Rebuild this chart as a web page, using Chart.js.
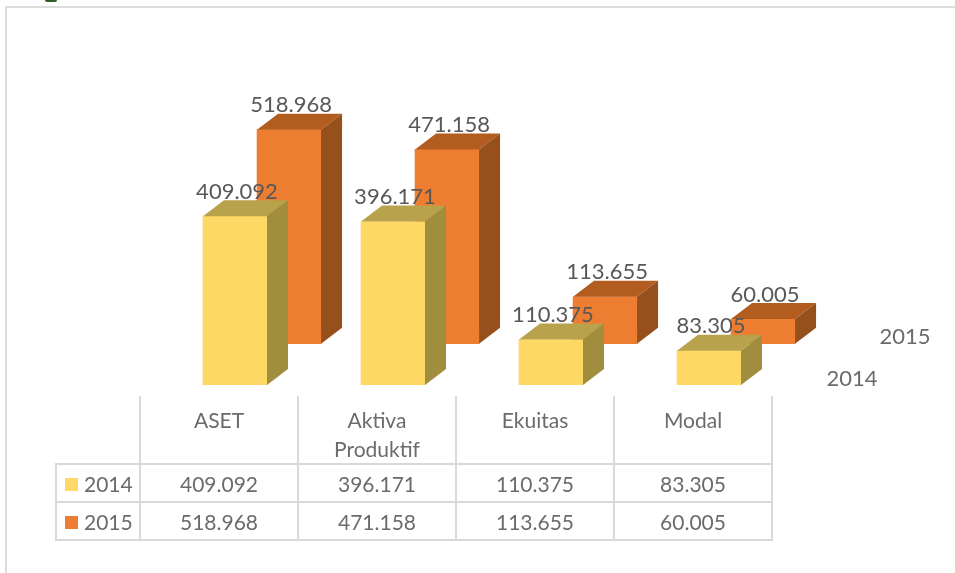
<!DOCTYPE html>
<html>
<head>
<meta charset="utf-8">
<title>Aset 2014-2015</title>
<script src="https://cdn.jsdelivr.net/npm/chart.js@4/dist/chart.umd.min.js"></script>
<style>
  html, body { margin: 0; padding: 0; background: #fff; overflow: hidden; }
  #wrap { position: relative; width: 955px; height: 573px; font-family: Lato, sans-serif; }
  #chart { position: absolute; left: 0; top: 0; }
  .frame-top  { position: absolute; left: 5px; top: 6px; width: 950px; height: 2px; background: #dcdcdc; }
  .frame-left { position: absolute; left: 5px; top: 6px; width: 2px; height: 567px; background: #dcdcdc; }
  .clip-mark  { position: absolute; left: 45px; top: 0; width: 12px; height: 2px; background: #2f5f1f; border-radius: 0 0 6px 6px; }
  #dataTable {
    position: absolute; left: 55px; top: 396px; width: 716px; table-layout: fixed;
    border-collapse: collapse; color: #6b6b6b; font-size: 21px;
  }
  #dataTable td { border: 2px solid #d9d9d9; text-align: center; padding: 0; height: 36px; }
  #dataTable tr:first-child td { border-top: none; height: 66px; vertical-align: top; line-height: 29px; padding-top: 9px; box-sizing: border-box; }
  #dataTable tr:first-child td:first-child { border-left: none; }
  #dataTable td:first-child { text-align: left; padding-left: 8px; box-sizing: border-box; white-space: nowrap; }
  .swatch { display: inline-block; width: 13px; height: 13px; margin-right: 6px; vertical-align: 1px; }
</style>
</head>
<body>
<div id="wrap">
  <div class="clip-mark"></div>
  <div class="frame-top"></div>
  <div class="frame-left"></div>
  <canvas id="chart" width="955" height="573"></canvas>
  <table id="dataTable"></table>
</div>
<script>
// ── Data ─────────────────────────────────────────────
const categories = ['ASET', 'Aktiva Produktif', 'Ekuitas', 'Modal'];
const seriesNames = ['2014', '2015'];
const values2014 = [409.092, 396.171, 110.375, 83.305];
const values2015 = [518.968, 471.158, 113.655, 60.005];

// ── Face colours ─────────────────────────────────────
const faces = {
  2014: { front: '#fdd865', top: '#b9a24c', side: '#a08e3e', swatch: '#ffd966' },
  2015: { front: '#ed7d31', top: '#b25c20', side: '#96501b', swatch: '#ed7d31' }
};
const depthX = 21, depthY = 16;
const fmt = v => v.toFixed(3);

// ── Table under the bars ─────────────────────────────
function buildTable() {
  const t = document.getElementById('dataTable');
  const cols = [84, 158, 158, 158, 158].map(w => `<col style="width:${w}px">`).join('');
  const head = categories.map(c => `<td>${c.replace(' ', '<br>')}</td>`).join('');
  const row = (name, vals) =>
    `<tr><td><span class="swatch" style="background:${faces[name].swatch}"></span>${name}</td>` +
    vals.map(v => `<td>${fmt(v)}</td>`).join('') + '</tr>';
  t.innerHTML = `<colgroup>${cols}</colgroup><tr><td></td>${head}</tr>` +
    row('2014', values2014) + row('2015', values2015);
}
buildTable();

// ── 3D faces, drawn right after each dataset's front faces ──
const box3d = {
  id: 'box3d',
  afterDatasetDraw(chart, args) {
    const { ctx } = chart;
    const col = faces[chart.data.datasets[args.index].label];
    args.meta.data.forEach(bar => {
      const l = bar.x - bar.width / 2, r = bar.x + bar.width / 2;
      ctx.fillStyle = col.top;
      ctx.beginPath();
      ctx.moveTo(l, bar.y);
      ctx.lineTo(l + depthX, bar.y - depthY);
      ctx.lineTo(r + depthX, bar.y - depthY);
      ctx.lineTo(r, bar.y);
      ctx.closePath();
      ctx.fill();
      ctx.fillStyle = col.side;
      ctx.beginPath();
      ctx.moveTo(r, bar.y);
      ctx.lineTo(r + depthX, bar.y - depthY);
      ctx.lineTo(r + depthX, bar.base - depthY);
      ctx.lineTo(r, bar.base);
      ctx.closePath();
      ctx.fill();
    });
  },
  // Value labels and depth axis names on top of everything
  afterDatasetsDraw(chart) {
    const { ctx } = chart;
    ctx.save();
    ctx.textAlign = 'center';
    ctx.textBaseline = 'middle';
    ctx.font = '22px Lato, sans-serif';
    ctx.fillStyle = '#585858';
    [1, 0].forEach(i => {
      const ds = chart.data.datasets[i];
      chart.getDatasetMeta(i).data.forEach((bar, j) => {
        ctx.fillText(fmt(ds.data[j].y), bar.x + 2, bar.y - depthY - 8.5);
      });
    });
    ctx.fillStyle = '#6b6b6b';
    const last = categories.length - 1;
    ctx.fillText(seriesNames[0], chart.getDatasetMeta(0).data[last].x + 143, chart.scales.y.getPixelForValue(0) - 6);
    ctx.fillText(seriesNames[1], chart.getDatasetMeta(1).data[last].x + 142, chart.scales.y2.getPixelForValue(0) - 7);
    ctx.restore();
  }
};

// ── Chart ────────────────────────────────────────────
const toPoints = vals => vals.map((v, i) => ({ x: i, y: v }));
new Chart(document.getElementById('chart'), {
  type: 'bar',
  data: {
    datasets: [
      { label: seriesNames[0], data: toPoints(values2014), backgroundColor: faces[2014].front,
        xAxisID: 'x', yAxisID: 'y', order: 1 },
      { label: seriesNames[1], data: toPoints(values2015), backgroundColor: faces[2015].front,
        xAxisID: 'x2', yAxisID: 'y2', order: 2 }
    ]
  },
  options: {
    responsive: false,
    animation: false,
    grouped: false,
    barThickness: 64,
    layout: { padding: { left: 156, right: 9, top: 55, bottom: 188 } },
    plugins: { legend: { display: false }, tooltip: { enabled: false } },
    scales: {
      x:  { type: 'linear', display: false, offset: false, min: -0.5, max: 4.5 },
      x2: { type: 'linear', display: false, offset: false, min: -0.842, max: 4.158 },
      y:  { display: false, min: 0, max: 800 },
      y2: { display: false, min: -100, max: 700 }
    }
  },
  plugins: [box3d]
});
</script>
</body>
</html>
